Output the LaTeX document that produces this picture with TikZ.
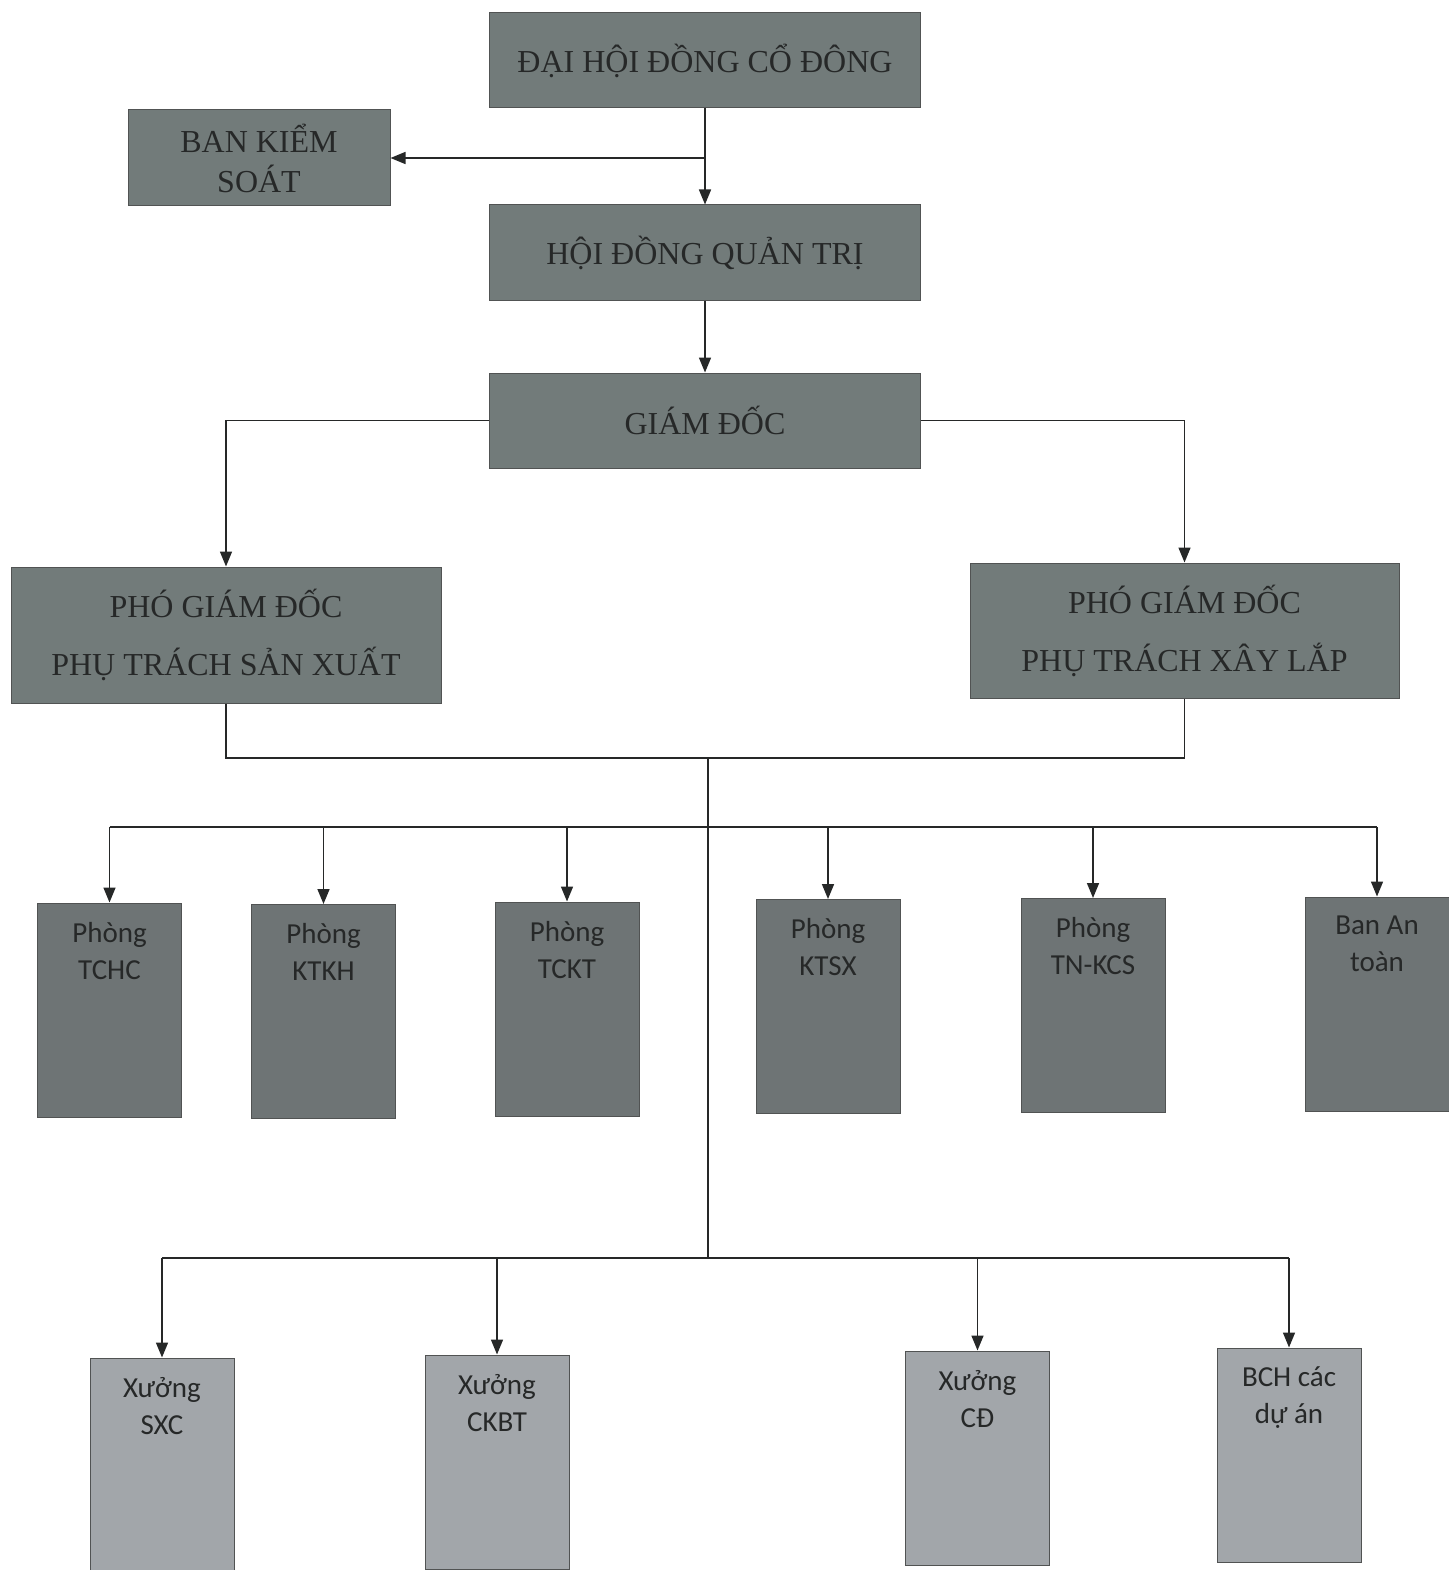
\documentclass[tikz,border=0pt]{standalone}
\usepackage{fontspec}
\setmainfont{Liberation Serif}
\newfontfamily\calibri{Carlito}
\usepackage{tikz}
\usetikzlibrary{arrows.meta, positioning, calc}
\usepackage{xcolor}
\definecolor{boardgray}{HTML}{727B7A}
\definecolor{deptgray}{HTML}{6E7475}
\definecolor{shopgray}{HTML}{A2A6AA}
\definecolor{inkgray}{HTML}{262828}

\begin{document}
\begin{tikzpicture}[
    x=1pt, y=-1pt,
    board/.style={draw=inkgray!80, line width=1pt, fill=boardgray, text=inkgray, align=center, font=\fontsize{32}{40}\selectfont},
    vice/.style={board, font=\fontsize{32}{58}\selectfont},
    dept/.style={draw=inkgray!80, line width=1pt, fill=deptgray, minimum width=144, minimum height=214},
    shop/.style={dept, fill=shopgray},
    deptlbl/.style={anchor=north, align=center, text=inkgray, yshift=-16, font=\calibri\fontsize{29}{37}\selectfont},
    edge/.style={-{Triangle[length=15pt, width=12pt]}, line width=1.6pt, draw=inkgray},
    wire/.style={line width=1.6pt, draw=inkgray},
]
\useasboundingbox (0,0) rectangle (1448,1570);

\node[board, minimum width=431, minimum height=95] (dhdcd) at (705,60.5) {ĐẠI HỘI ĐỒNG CỔ ĐÔNG};
\node[board, minimum width=262, minimum height=96] (bks) at (259,158) {BAN KIỂM\\SOÁT};
\node[board, minimum width=431, minimum height=95] (hdqt) at (705,252.5) {HỘI ĐỒNG QUẢN TRỊ};
\node[board, minimum width=431, minimum height=95] (gd) at (705,420.5) {GIÁM ĐỐC};
\node[vice, minimum width=430, minimum height=136] (pgdsx) at (226,635) {PHÓ GIÁM ĐỐC\\PHỤ TRÁCH SẢN XUẤT};
\node[vice, minimum width=429, minimum height=135] (pgdxl) at (1184.5,630.5) {PHÓ GIÁM ĐỐC\\PHỤ TRÁCH XÂY LẮP};

\node[dept, label={[deptlbl]north:Phòng\\TCHC}] (tchc) at (109.5,1010) {};
\node[dept, label={[deptlbl]north:Phòng\\KTKH}] (ktkh) at (323.5,1011.5) {};
\node[dept, label={[deptlbl]north:Phòng\\TCKT}] (tckt) at (567,1009) {};
\node[dept, label={[deptlbl]north:Phòng\\KTSX}] (ktsx) at (828,1006.5) {};
\node[dept, label={[deptlbl]north:Phòng\\TN-KCS}] (tnkcs) at (1093,1005.5) {};
\node[dept, label={[deptlbl]north:Ban An\\toàn}] (banat) at (1377,1004) {};

\node[shop, label={[deptlbl]north:Xưởng\\SXC}] (sxc) at (162,1465) {};
\node[shop, label={[deptlbl]north:Xưởng\\CKBT}] (ckbt) at (497,1462) {};
\node[shop, label={[deptlbl]north:Xưởng\\CĐ}] (cd) at (977.5,1458) {};
\node[shop, label={[deptlbl]north:BCH các\\dự án}] (bch) at (1289,1455) {};

\coordinate (bksj) at (705,158);
\coordinate (join) at (708,758);
\coordinate (pbus) at (708,827);
\coordinate (xbus) at (708,1258);

\draw[edge] (dhdcd) -- (hdqt);
\draw[edge] (bksj) -- (bks);
\draw[edge] (hdqt) -- (gd);
\draw[edge] (gd.west) -| (pgdsx);
\draw[edge] (gd.east) -| (pgdxl);
\draw[wire] (pgdsx.south) |- (join) -| (pgdxl.south);
\draw[wire] (join) -- (xbus);

\draw[wire] (tchc.north |- pbus) -- (banat.north |- pbus);
\foreach \n in {tchc,ktkh,tckt,ktsx,tnkcs,banat}
    \draw[edge] (\n.north |- pbus) -- (\n);

\draw[wire] (sxc.north |- xbus) -- (bch.north |- xbus);
\foreach \n in {sxc,ckbt,cd,bch}
    \draw[edge] (\n.north |- xbus) -- (\n);

\end{tikzpicture}
\end{document}
